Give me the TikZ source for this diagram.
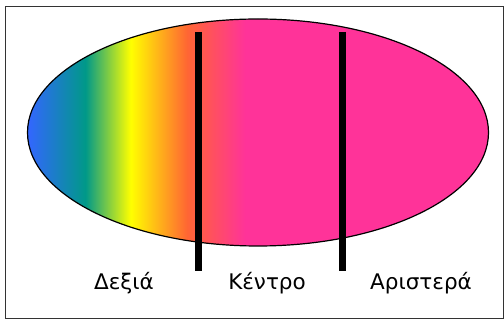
\documentclass[tikz,border=0pt]{standalone}
\usepackage{fontspec}
\setmainfont{DejaVu Sans}
\usetikzlibrary{shapes.geometric, positioning}
\definecolor{spBlue}{RGB}{51, 102, 255}
\definecolor{spTeal}{RGB}{0, 153, 136}
\definecolor{spYellow}{RGB}{255, 255, 0}
\definecolor{spOrange}{RGB}{255, 102, 51}
\definecolor{spPink}{RGB}{255, 51, 153}
\pgfdeclarehorizontalshading{spectrum}{100bp}{%
  color(0bp)=(spBlue); color(25bp)=(spBlue); color(31.3bp)=(spTeal);
  color(36.2bp)=(spYellow); color(42.3bp)=(spOrange);
  color(48.6bp)=(spPink); color(100bp)=(spPink)}

\begin{document}
\begin{tikzpicture}[
        x=1pt, y=-1pt,
        axisShape/.style={ellipse, draw=black, line width=1.2pt, shading=spectrum, minimum width=461pt, minimum height=227pt, inner sep=0pt},
        divLine/.style={draw=black, line width=7pt},
        sideLabel/.style={font=\fontsize{21.5}{24}\selectfont, text=black, anchor=base}
    ]
        \useasboundingbox (0,0) rectangle (504,320);
        \draw[line width=1pt, black!80] (5.5,7) rectangle (503,319);

        \node[axisShape] (axis) at (258,132.5) {};

        % Διαχωριστικές γραμμές
        \coordinate (d1top) at (198,32);
        \coordinate (d1bot) at (198,271);
        \coordinate (d2top) at (342,32);
        \coordinate (d2bot) at (342,271);
        \draw[divLine] (d1top) -- (d1bot);
        \draw[divLine] (d2top) -- (d2bot);

        \node[sideLabel] (right) at (124,290) {Δεξιά};
        \node[sideLabel] (center) at (267,290) {Κέντρο};
        \node[sideLabel] (left) at (421,290) {Αριστερά};
    \end{tikzpicture}
\end{document}
